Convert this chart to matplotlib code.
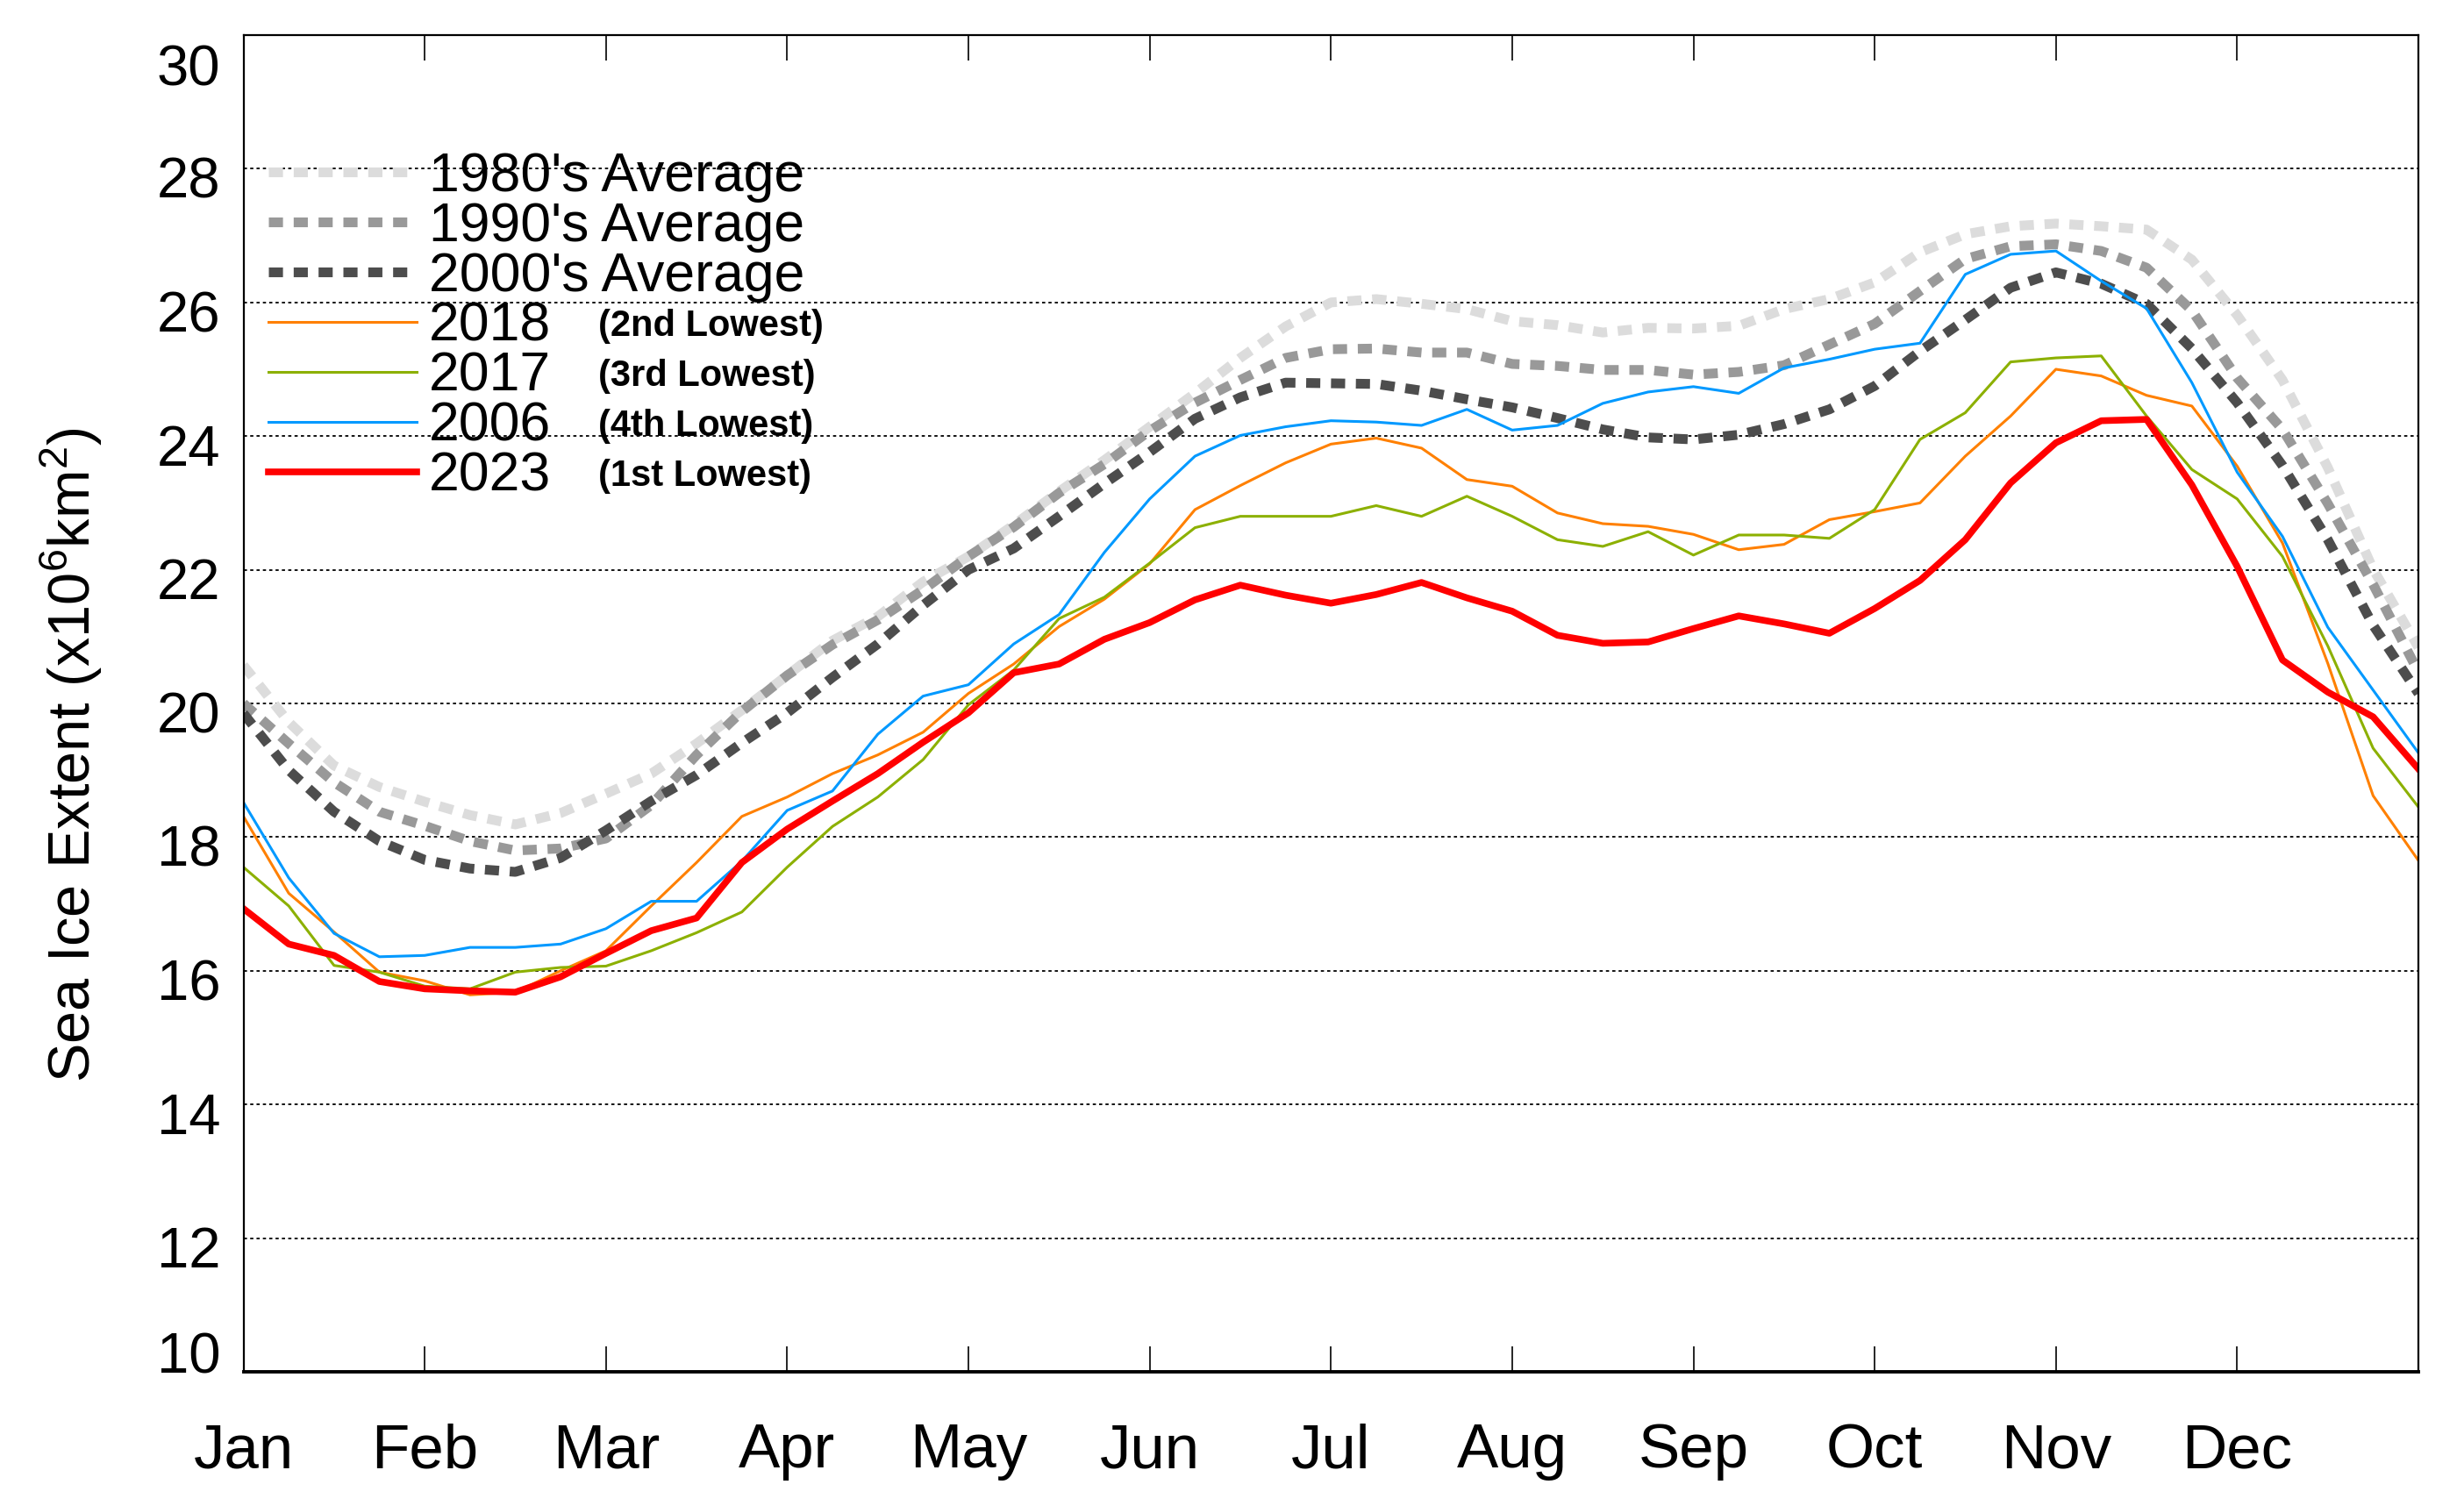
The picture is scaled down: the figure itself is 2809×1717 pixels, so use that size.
import matplotlib
matplotlib.use('Agg')
import matplotlib.pyplot as plt
import matplotlib.transforms as mtransforms
import numpy as np

# sample positions in months since Jan 1 (every quarter month)
x_months = np.linspace(0, 12, 49)
month_labels = ['Jan', 'Feb', 'Mar', 'Apr', 'May', 'Jun', 'Jul', 'Aug', 'Sep', 'Oct', 'Nov', 'Dec', '']

avg_1980s = [20.57, 19.72, 19.07, 18.75, 18.53, 18.33, 18.19, 18.36, 18.65, 18.95, 19.40, 19.90,
             20.42, 20.94, 21.30, 21.82, 22.20, 22.67, 23.17, 23.64, 24.14, 24.64, 25.17, 25.64,
             26.00, 26.05, 25.98, 25.90, 25.72, 25.66, 25.55, 25.62, 25.61, 25.65, 25.90, 26.05,
             26.30, 26.75, 27.02, 27.14, 27.18, 27.14, 27.09, 26.64, 25.81, 24.84, 23.53, 22.01, 20.84]
avg_1990s = [20.00, 19.40, 18.82, 18.38, 18.17, 17.94, 17.80, 17.83, 17.98, 18.48, 19.23, 19.88,
             20.42, 20.88, 21.25, 21.70, 22.20, 22.64, 23.15, 23.58, 24.08, 24.50, 24.84, 25.17,
             25.30, 25.31, 25.25, 25.25, 25.08, 25.05, 24.99, 24.99, 24.92, 24.96, 25.06, 25.37,
             25.68, 26.17, 26.65, 26.84, 26.87, 26.77, 26.52, 25.88, 24.87, 24.10, 22.99, 21.78, 20.47]
avg_2000s = [19.85, 19.00, 18.38, 17.94, 17.66, 17.53, 17.48, 17.69, 18.10, 18.54, 18.93, 19.41,
             19.86, 20.39, 20.89, 21.47, 22.00, 22.32, 22.80, 23.29, 23.76, 24.26, 24.58, 24.80,
             24.79, 24.78, 24.68, 24.55, 24.43, 24.27, 24.10, 23.98, 23.95, 24.02, 24.18, 24.40,
             24.75, 25.27, 25.74, 26.22, 26.45, 26.28, 25.98, 25.31, 24.50, 23.56, 22.45, 21.17, 20.15]
y2018 = [18.31, 17.16, 16.58, 15.98, 15.85, 15.64, 15.68, 16.00, 16.30, 16.97, 17.62, 18.31,
         18.60, 18.95, 19.23, 19.57, 20.15, 20.59, 21.15, 21.56, 22.09, 22.90, 23.26, 23.60,
         23.88, 23.97, 23.82, 23.35, 23.25, 22.85, 22.69, 22.65, 22.53, 22.30, 22.38, 22.75,
         22.87, 23.00, 23.70, 24.30, 25.00, 24.90, 24.61, 24.45, 23.55, 22.40, 20.60, 18.62, 17.65]
y2017 = [17.55, 16.97, 16.08, 15.98, 15.77, 15.73, 15.98, 16.05, 16.07, 16.30, 16.57, 16.88,
         17.55, 18.16, 18.60, 19.16, 19.98, 20.50, 21.27, 21.59, 22.10, 22.63, 22.80, 22.80,
         22.80, 22.96, 22.80, 23.10, 22.80, 22.45, 22.35, 22.57, 22.22, 22.52, 22.52, 22.47,
         22.90, 23.95, 24.35, 25.11, 25.17, 25.20, 24.30, 23.50, 23.06, 22.20, 20.86, 19.33, 18.45]
y2006 = [18.52, 17.39, 16.56, 16.21, 16.23, 16.35, 16.35, 16.40, 16.63, 17.04, 17.04, 17.64,
         18.40, 18.69, 19.54, 20.11, 20.28, 20.89, 21.33, 22.26, 23.06, 23.70, 24.01, 24.14,
         24.23, 24.21, 24.16, 24.40, 24.09, 24.16, 24.49, 24.66, 24.74, 24.64, 25.02, 25.15,
         25.30, 25.39, 26.42, 26.72, 26.77, 26.32, 25.91, 24.80, 23.46, 22.50, 21.14, 20.20, 19.26]
y2023 = [16.93, 16.40, 16.23, 15.84, 15.73, 15.70, 15.68, 15.91, 16.26, 16.60, 16.79, 17.62,
         18.12, 18.54, 18.95, 19.42, 19.86, 20.46, 20.59, 20.96, 21.21, 21.55, 21.77, 21.62,
         21.50, 21.63, 21.81, 21.58, 21.38, 21.02, 20.90, 20.92, 21.12, 21.31, 21.19, 21.05,
         21.42, 21.84, 22.45, 23.30, 23.90, 24.23, 24.25, 23.27, 22.05, 20.65, 20.17, 19.80, 19.02]

rank_notes = ['', '', '', '(2nd Lowest)', '(3rd Lowest)', '(4th Lowest)', '(1st Lowest)']

plt.rcParams['font.family'] = ['Liberation Sans', 'DejaVu Sans']
plt.rcParams['mathtext.fontset'] = 'custom'
plt.rcParams['mathtext.rm'] = 'Liberation Sans'
plt.rcParams['mathtext.it'] = 'Liberation Sans'

fig = plt.figure(figsize=(28.09, 17.17), dpi=100)
ax = fig.add_axes([0.0988, 0.0891, 0.8827, 0.8876])

dash = (0, (1.45, 1.1))
ax.plot(x_months, avg_1980s, color='#dcdcdc', lw=8, ls=dash, label="1980's Average")
ax.plot(x_months, avg_1990s, color='#999999', lw=8, ls=dash, label="1990's Average")
ax.plot(x_months, avg_2000s, color='#4d4d4d', lw=8, ls=dash, label="2000's Average")
ax.plot(x_months, y2018, color='#ff8000', lw=2.2, label='2018')
ax.plot(x_months, y2017, color='#8cb000', lw=2.2, label='2017')
ax.plot(x_months, y2006, color='#0099ff', lw=2.2, label='2006')
ax.plot(x_months, y2023, color='#ff0000', lw=5.5, label='2023')

ax.set_xlim(0, 12)
ax.set_ylim(10, 30)
ax.set_xticks(np.arange(13))
ax.set_xticklabels(month_labels)
ax.set_yticks(np.arange(10, 31, 2))
ax.tick_params(axis='x', which='both', direction='in', top=True, length=21, width=1.2,
               labelsize=51, pad=42)
ax.tick_params(axis='y', length=0, labelsize=47, pad=19)

ax.grid(axis='y', color='black', ls=(0, (2, 2)), lw=1.3)
ygrid = ax.get_ygridlines()
ygrid[0].set_visible(False)
ygrid[-1].set_visible(False)

for side in ['left', 'right', 'top']:
    ax.spines[side].set_linewidth(1.6)
ax.spines['bottom'].set_linewidth(2.8)

# nudge y tick labels like the original
ylabels = ax.get_yticklabels()
for i, lab in enumerate(ylabels):
    if i == 0:
        dy = 22
    elif i == len(ylabels) - 1:
        dy = -34
    else:
        dy = -10
    lab.set_transform(lab.get_transform() + mtransforms.ScaledTranslation(0, dy / 100, fig.dpi_scale_trans))

fig.text(0.029, 0.499, r'Sea Ice Extent (x10$^{6}$km$^{2}$)', rotation=90,
         ha='center', va='center', fontsize=48)

# legend: rows about 57 px apart, first row centred ~201 px below the top, text starting ~489 px
leg_size = 45
spacing = -0.2
anchor_y = 0.918
textpad = 0.25
for _ in range(3):
    leg = ax.legend(loc='upper left', bbox_to_anchor=(0.0115, anchor_y), frameon=False,
                    fontsize=leg_size, handlelength=2.7, handletextpad=textpad, labelspacing=spacing,
                    borderaxespad=0, borderpad=0)
    fig.canvas.draw()
    texts = leg.get_texts()
    b0 = texts[0].get_window_extent()
    b1 = texts[1].get_window_extent()
    gap = ((b0.y0 + b0.y1) - (b1.y0 + b1.y1)) / 2
    spacing += (57 - gap) / (leg_size * 100 / 72)
    anchor_y += ((1717 - 201) - (b0.y0 + b0.y1) / 2) / ax.bbox.height
    textpad += (489 - b0.x0) / (leg_size * 100 / 72)

fig.canvas.draw()
inv = fig.transFigure.inverted()
for txt, note in zip(leg.get_texts(), rank_notes):
    if not note:
        continue
    bb = txt.get_window_extent()
    xf, yf = inv.transform((682, (bb.y0 + bb.y1) / 2))
    fig.text(xf, yf, note, fontsize=30, fontweight='bold', ha='left', va='center')

fig.savefig('out.png', dpi=100)
